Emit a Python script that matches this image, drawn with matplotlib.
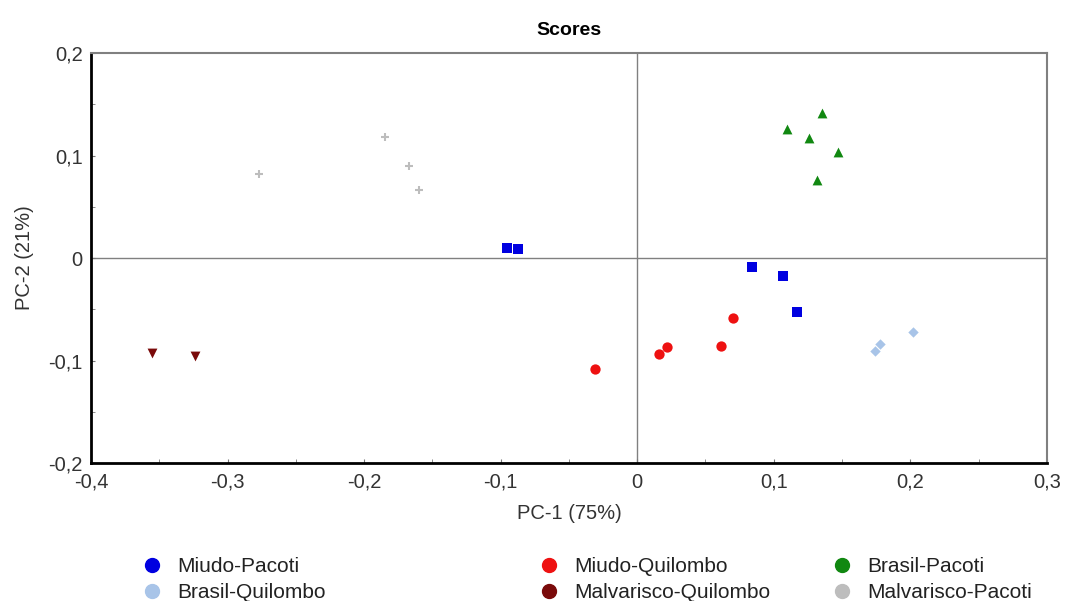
import matplotlib.pyplot as plt
from matplotlib.ticker import MultipleLocator, FuncFormatter
from matplotlib.lines import Line2D

plt.rcParams['font.family'] = ['Liberation Sans', 'DejaVu Sans']

groups = ['Miudo-Pacoti', 'Miudo-Quilombo', 'Brasil-Pacoti',
          'Brasil-Quilombo', 'Malvarisco-Quilombo', 'Malvarisco-Pacoti']
colors = ['#0000e0', '#ee1111', '#118811', '#a8c4e8', '#7a0a0a', '#bdbdbd']
markers = ['s', 'o', '^', 'D', 'v', '+']
sizes = [60, 55, 50, 28, 50, 40]

miudo_pacoti_x = [-0.095, -0.087, 0.084, 0.107, 0.117]
miudo_pacoti_y = [0.010, 0.009, -0.009, -0.018, -0.053]
miudo_quilombo_x = [0.070, 0.022, 0.016, 0.061, -0.031]
miudo_quilombo_y = [-0.059, -0.087, -0.094, -0.086, -0.108]
brasil_pacoti_x = [0.110, 0.135, 0.126, 0.147, 0.132]
brasil_pacoti_y = [0.126, 0.141, 0.117, 0.103, 0.076]
brasil_quilombo_x = [0.202, 0.178, 0.174]
brasil_quilombo_y = [-0.072, -0.084, -0.091]
malv_quilombo_x = [-0.355, -0.324]
malv_quilombo_y = [-0.093, -0.096]
malv_pacoti_x = [-0.277, -0.185, -0.167, -0.160]
malv_pacoti_y = [0.082, 0.118, 0.090, 0.066]

xs = [miudo_pacoti_x, miudo_quilombo_x, brasil_pacoti_x,
      brasil_quilombo_x, malv_quilombo_x, malv_pacoti_x]
ys = [miudo_pacoti_y, miudo_quilombo_y, brasil_pacoti_y,
      brasil_quilombo_y, malv_quilombo_y, malv_pacoti_y]

fig = plt.figure(figsize=(10.65, 6.01), dpi=100)
ax = fig.add_axes([0.0854, 0.2296, 0.8976, 0.6822])

ax.axhline(0, color='#808080', linewidth=1, zorder=1)
ax.axvline(0, color='#808080', linewidth=1, zorder=1)

for x, y, c, m, s in zip(xs, ys, colors, markers, sizes):
    lw = 1.5 if m == '+' else 0
    ax.scatter(x, y, color=c, marker=m, s=s, linewidths=lw, zorder=3)

ax.set_xlim(-0.4, 0.3)
ax.set_ylim(-0.2, 0.2)
ax.xaxis.set_major_locator(MultipleLocator(0.1))
ax.xaxis.set_minor_locator(MultipleLocator(0.05))
ax.yaxis.set_major_locator(MultipleLocator(0.1))
ax.yaxis.set_minor_locator(MultipleLocator(0.05))

def fmt(v, pos):
    if abs(v) < 1e-9:
        return '0'
    return ('%.1f' % v).replace('.', ',')

ax.xaxis.set_major_formatter(FuncFormatter(fmt))
ax.yaxis.set_major_formatter(FuncFormatter(fmt))
ax.tick_params(which='both', direction='in', length=3, color='#777777',
               labelsize=14.5, labelcolor='#333333')
ax.tick_params(axis='x', pad=7)
ax.tick_params(axis='y', pad=6)

ax.spines['left'].set_linewidth(2)
ax.spines['bottom'].set_linewidth(2)
ax.spines['top'].set_color('#808080')
ax.spines['right'].set_color('#808080')
ax.spines['top'].set_linewidth(1.5)
ax.spines['right'].set_linewidth(1.5)

ax.set_xlabel('PC-1 (75%)', fontsize=14.5, color='#333333', labelpad=9)
ax.set_ylabel('PC-2 (21%)', fontsize=14.5, color='#333333', labelpad=10)
ax.set_title('Scores', fontsize=14, fontweight='bold', pad=13)

# legend: three columns placed like the original
col_pos = [0.125, 0.498, 0.773]
for i, xpos in enumerate(col_pos):
    handles = []
    for j in (i, i + 3):
        handles.append(Line2D([], [], marker='o', linestyle='none',
                              color=colors[j], markersize=10, label=groups[j]))
    fig.legend(handles=handles, loc='upper left', bbox_to_anchor=(xpos, 0.087),
               frameon=False, fontsize=15, handletextpad=0.7, labelspacing=0.35,
               borderaxespad=0, handlelength=1.0, labelcolor='#222222')

fig.savefig('out.png', dpi=100)
